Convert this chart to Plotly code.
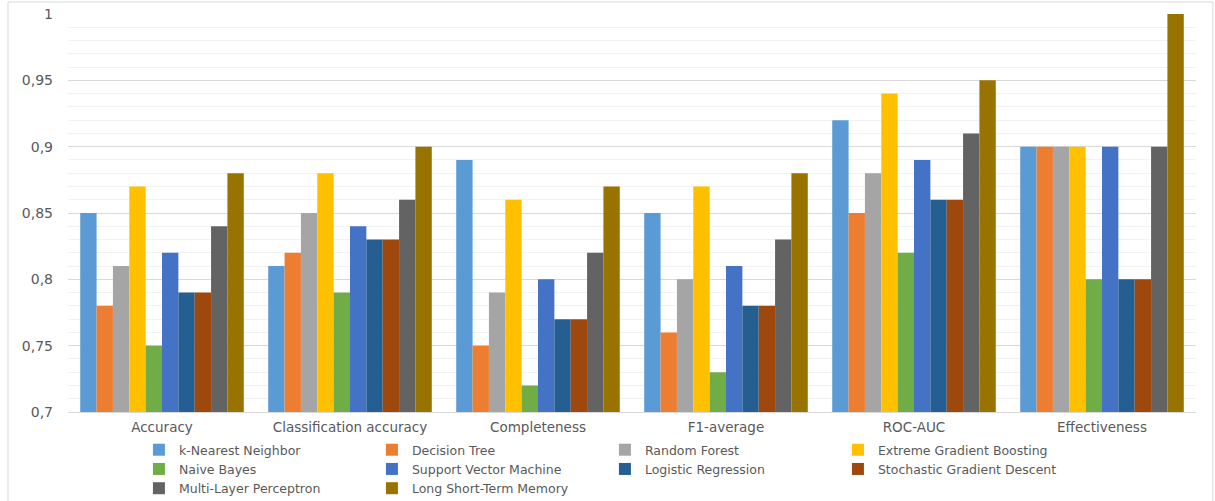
import plotly.graph_objects as go

categories = ["Accuracy", "Classification accuracy", "Completeness", "F1-average", "ROC-AUC", "Effectiveness"]

knn = [0.85, 0.81, 0.89, 0.85, 0.92, 0.90]
dt = [0.78, 0.82, 0.75, 0.76, 0.85, 0.90]
rf = [0.81, 0.85, 0.79, 0.80, 0.88, 0.90]
xgb = [0.87, 0.88, 0.86, 0.87, 0.94, 0.90]
nb = [0.75, 0.79, 0.72, 0.73, 0.82, 0.80]
svm = [0.82, 0.84, 0.80, 0.81, 0.89, 0.90]
lr = [0.79, 0.83, 0.77, 0.78, 0.86, 0.80]
sgd = [0.79, 0.83, 0.77, 0.78, 0.86, 0.80]
mlp = [0.84, 0.86, 0.82, 0.83, 0.91, 0.90]
lstm = [0.88, 0.90, 0.87, 0.88, 0.95, 1.00]

series_names = ["k-Nearest Neighbor", "Decision Tree", "Random Forest", "Extreme Gradient Boosting",
                "Naive Bayes", "Support Vector Machine", "Logistic Regression", "Stochastic Gradient Descent",
                "Multi-Layer Perceptron", "Long Short-Term Memory"]
series_values = [knn, dt, rf, xgb, nb, svm, lr, sgd, mlp, lstm]
colors = ["#5B9BD5", "#ED7D31", "#A5A5A5", "#FFC000", "#70AD47", "#4472C4", "#255E91", "#9E480E", "#636363", "#997300"]

y_ticks = [0.7, 0.75, 0.8, 0.85, 0.9, 0.95, 1.0]
y_tick_labels = ["0,7", "0,75", "0,8", "0,85", "0,9", "0,95", "1"]

FONT = "DejaVu Sans, Liberation Sans, sans-serif"

fig = go.Figure()
for name, vals, c in zip(series_names, series_values, colors):
    fig.add_trace(go.Bar(x=categories, y=vals, name=name, marker=dict(color=c, line=dict(width=0))))

fig.update_layout(
    width=1215, height=501,
    margin=dict(l=68, r=19, t=14, b=89, autoexpand=False),
    paper_bgcolor="white", plot_bgcolor="white",
    barmode="group", bargap=0.13, bargroupgap=0,
    font=dict(family=FONT, size=13, color="#595959"),
    yaxis=dict(range=[0.7, 1.0], tickvals=y_ticks, ticktext=y_tick_labels,
               showgrid=True, gridcolor="#D9D9D9", gridwidth=1, zeroline=False,
               minor=dict(dtick=0.01, showgrid=True, gridcolor="#F2F2F2", gridwidth=1),
               ticks="", showline=False, ticklabelstandoff=14,
               tickfont=dict(family=FONT, size=14, color="#595959")),
    xaxis=dict(showline=True, linecolor="#D9D9D9", linewidth=1, ticks="", ticklabelstandoff=3,
               tickfont=dict(family=FONT, size=13.5, color="#595959")),
    legend=dict(orientation="h", x=0.476, xanchor="center", y=-0.058, yanchor="top",
                entrywidth=188, font=dict(family=FONT, size=12.5, color="#595959"),
                itemwidth=30, tracegroupgap=0, traceorder="normal"),
    shapes=[dict(type="rect", xref="paper", yref="paper", x0=-0.0532, x1=1.0150, y0=-0.26, y1=1.030,
                 line=dict(color="#D9D9D9", width=1), fillcolor="rgba(0,0,0,0)", layer="below")],
)

fig.write_html("out.html")
